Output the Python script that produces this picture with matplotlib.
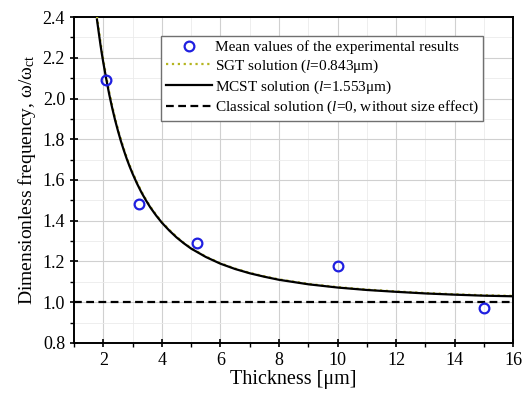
import numpy as np
import matplotlib
matplotlib.use('Agg')
import matplotlib.pyplot as plt
from matplotlib import rc
from matplotlib.ticker import MultipleLocator, FormatStrFormatter

# experimental mean values
exp_h = [2.1, 3.2, 5.2, 10.0, 15.0]
exp_w = [2.09, 1.48, 1.29, 1.18, 0.97]

# curves
curve_h = [1.78, 1.85, 1.9, 1.95, 2.0, 2.1, 2.2, 2.3, 2.4, 2.5, 2.6, 2.7, 2.8,
           2.9, 3.0, 3.15, 3.3, 3.45, 3.6, 3.8, 4.0, 4.25, 4.5, 4.75, 5.0,
           5.5, 6.0, 6.5, 7.0, 7.5, 8.0, 9.0, 10.0, 11.0, 12.0, 13.0, 14.0,
           15.0, 16.0]
mcst_w = [2.388, 2.315, 2.264, 2.217, 2.174, 2.094, 2.020, 1.954, 1.894, 1.840,
          1.790, 1.745, 1.703, 1.665, 1.630, 1.582, 1.539, 1.501, 1.466, 1.426,
          1.390, 1.352, 1.318, 1.289, 1.263, 1.222, 1.189, 1.163, 1.142, 1.125,
          1.110, 1.088, 1.072, 1.060, 1.051, 1.043, 1.037, 1.032, 1.029]
sgt_w = [2.405, 2.331, 2.279, 2.231, 2.187, 2.106, 2.031, 1.964, 1.903, 1.848,
         1.798, 1.752, 1.709, 1.671, 1.636, 1.587, 1.544, 1.505, 1.470, 1.429,
         1.393, 1.355, 1.321, 1.291, 1.265, 1.224, 1.191, 1.165, 1.144, 1.127,
         1.112, 1.090, 1.074, 1.062, 1.053, 1.045, 1.039, 1.034, 1.031]
classic_h = [1.0, 16.0]
classic_w = [1.0, 1.0]

rc('font', family='serif', serif=['Liberation Serif', 'DejaVu Serif'], size=11)
rc('mathtext', fontset='custom', rm='Liberation Serif', it='Liberation Serif:italic')

fig = plt.figure(figsize=(5.22, 3.96), dpi=100)
ax = fig.add_axes([0.142, 0.134, 0.841, 0.823])

ax.plot(exp_h, exp_w, 'o', mfc='none', mec='#1f1fe0', mew=1.6, ms=7,
        label='Mean values of the experimental results', zorder=5)
ax.plot(curve_h, sgt_w, ':', color='#b5b520', lw=1.6,
        label=r'SGT solution ($\mathit{l}$=0.843μm)', zorder=3)
ax.plot(curve_h, mcst_w, '-', color='black', lw=1.6,
        label=r'MCST solution ($\mathit{l}$=1.553μm)', zorder=4)
ax.plot(classic_h, classic_w, '--', color='black', lw=1.6, dashes=(3.5, 2),
        label=r'Classical solution ($\mathit{l}$=0, without size effect)', zorder=4)

ax.set_xlim(1, 16)
ax.set_ylim(0.8, 2.4)
ax.xaxis.set_major_locator(MultipleLocator(2))
ax.xaxis.set_minor_locator(MultipleLocator(1))
ax.yaxis.set_major_locator(MultipleLocator(0.2))
ax.yaxis.set_minor_locator(MultipleLocator(0.1))
ax.yaxis.set_major_formatter(FormatStrFormatter('%.1f'))

ax.grid(which='major', color='#d0d0d0', lw=0.8)
ax.grid(which='minor', color='#ebebeb', lw=0.6)
ax.set_axisbelow(True)

ax.tick_params(which='major', direction='inout', length=6, width=1.2, labelsize=13)
ax.tick_params(which='minor', direction='out', length=3, width=1.0)
ax.tick_params(top=False, right=False)
for s in ax.spines.values():
    s.set_linewidth(1.4)

ax.set_xlabel('Thickness [μm]', fontsize=14.5, labelpad=1)
ax.set_ylabel(r'Dimensionless frequency, ω/ω$_{\mathrm{ct}}$', fontsize=14, labelpad=3)

leg = ax.legend(loc='upper right', bbox_to_anchor=(0.932, 0.942), fontsize=11,
                fancybox=False, framealpha=1, edgecolor='#707070',
                handlelength=3.0, handletextpad=0.2, labelspacing=0.22,
                borderpad=0.3, borderaxespad=0.0)
leg.get_frame().set_linewidth(1.0)

plt.savefig('out.png', dpi=100)
